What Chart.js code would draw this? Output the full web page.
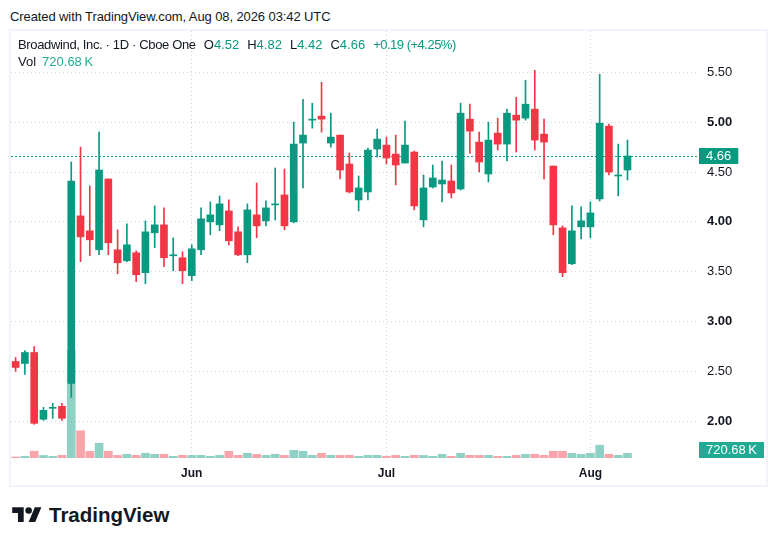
<!DOCTYPE html>
<html>
<head>
<meta charset="utf-8">
<script src="https://cdn.jsdelivr.net/npm/chart.js@4.4.1/dist/chart.umd.min.js"></script>
<style>
  html, body { margin: 0; padding: 0; background: #fff; }
  body { width: 776px; height: 546px; position: relative; overflow: hidden;
         font-family: "Liberation Sans", Arial, sans-serif; color: #131722; }
  #created { position: absolute; left: 10px; top: 8px; font-size: 13px; line-height: 17px; letter-spacing: -0.1px; }
  #frame { position: absolute; left: 9px; top: 29px; width: 759px; height: 458px;
           box-sizing: border-box; border: 2px solid #f0f3fa; }
  #chart { position: absolute; left: 0; top: 0; }
  #legend { position: absolute; left: 7px; top: 5px; font-size: 13px; line-height: 17px; pointer-events: none; white-space: nowrap; }
  #legend .title { letter-spacing: -0.35px; }
  #legend .grp { margin-left: 8px; }
  #legend .chg { letter-spacing: -0.5px; }
  #legend .up { color: #089981; }
  #legend .vol { color: #22ab94; margin-left: 6px; }
  #logo { position: absolute; left: 12px; top: 503px; display: flex; align-items: center; }
  #logo span { font-weight: bold; font-size: 20.5px; margin-left: 7px; color: #131722; }
</style>
</head>
<body>
<div id="created">Created with TradingView.com, Aug 08, 2026 03:42 UTC</div>
<div id="frame">
  <canvas id="chart" width="755" height="454"></canvas>
  <div id="legend">
    <div id="row1"></div>
    <div id="row2"></div>
  </div>
</div>
<div id="logo">
  <svg width="30" height="23" viewBox="0 0 36 28"><g fill="#131722">
    <path d="M14 22H7V11H0V4h14v18zM28 22h-8l7.5-18h8L28 22z"/><circle cx="20" cy="8" r="4"/></g></svg>
  <span>TradingView</span>
</div>

<script>
const TITLE = "Broadwind, Inc. · 1D · Cboe One";
const UP = "#089981";
const DOWN = "#F23645";
const UP_VOL = "rgba(8,153,129,0.45)";
const DOWN_VOL = "rgba(242,54,69,0.45)";
const GRID = "#d1d4dc";
const FONT = "'Liberation Sans', Arial, sans-serif";

// --- Data (daily candles, volume in thousands) ---
const DATES = [
    "2026-05-04", "2026-05-05", "2026-05-06", "2026-05-07", "2026-05-08",
    "2026-05-11", "2026-05-12", "2026-05-13", "2026-05-14", "2026-05-15",
    "2026-05-18", "2026-05-19", "2026-05-20", "2026-05-21", "2026-05-22",
    "2026-05-26", "2026-05-27", "2026-05-28", "2026-05-29",
    "2026-06-01", "2026-06-02", "2026-06-03", "2026-06-04", "2026-06-05",
    "2026-06-08", "2026-06-09", "2026-06-10", "2026-06-11", "2026-06-12",
    "2026-06-15", "2026-06-16", "2026-06-17", "2026-06-18",
    "2026-06-22", "2026-06-23", "2026-06-24", "2026-06-25", "2026-06-26",
    "2026-06-29", "2026-06-30",
    "2026-07-01", "2026-07-02",
    "2026-07-06", "2026-07-07", "2026-07-08", "2026-07-09", "2026-07-10",
    "2026-07-13", "2026-07-14", "2026-07-15", "2026-07-16", "2026-07-17",
    "2026-07-20", "2026-07-21", "2026-07-22", "2026-07-23", "2026-07-24",
    "2026-07-27", "2026-07-28", "2026-07-29", "2026-07-30", "2026-07-31",
    "2026-08-03", "2026-08-04", "2026-08-05", "2026-08-06", "2026-08-07",
];
const OPEN = [
    2.60, 2.58, 2.69, 2.02, 2.13, 2.15, 2.38, 4.06, 3.91, 3.72,
    4.43, 3.72, 3.61, 3.69, 3.49, 3.89, 3.97, 3.66, 3.64, 3.46,
    3.72, 4.00, 3.97, 4.11, 3.90, 3.67, 4.07, 4.01, 4.17, 4.27,
    4.00, 4.79, 5.02, 5.06, 4.79, 4.87, 4.58, 4.22, 4.30, 4.73,
    4.77, 4.68, 4.59, 4.70, 4.02, 4.35, 4.38, 4.41, 4.33, 5.03,
    4.80, 4.48, 4.89, 4.78, 5.07, 5.04, 5.13, 4.88, 4.56, 3.94,
    3.58, 3.95, 3.95, 4.23, 4.96, 4.46, 4.52,
];
const HIGH = [
    2.64, 2.71, 2.75, 2.14, 2.18, 2.18, 4.60, 4.75, 4.36, 4.90,
    4.43, 3.92, 3.98, 3.71, 4.01, 4.16, 4.14, 3.84, 3.70, 3.77,
    4.14, 4.20, 4.26, 4.22, 3.95, 4.18, 4.39, 4.21, 4.54, 4.53,
    5.00, 5.23, 5.19, 5.40, 5.09, 4.87, 4.69, 4.46, 4.74, 4.93,
    4.85, 4.87, 5.01, 4.71, 4.47, 4.57, 4.61, 4.57, 5.19, 5.18,
    4.90, 5.00, 5.04, 5.13, 5.25, 5.42, 5.52, 5.03, 4.56, 3.96,
    4.16, 4.15, 4.20, 5.48, 4.98, 4.78, 4.82,
];
const LOW = [
    2.50, 2.47, 1.97, 2.01, 2.03, 2.01, 2.24, 3.60, 3.66, 3.67,
    3.67, 3.48, 3.60, 3.40, 3.38, 3.74, 3.55, 3.51, 3.38, 3.41,
    3.67, 3.87, 3.91, 3.77, 3.66, 3.59, 3.84, 3.96, 4.02, 3.92,
    3.99, 4.34, 4.94, 4.90, 4.75, 4.43, 4.29, 4.11, 4.22, 4.65,
    4.58, 4.37, 4.59, 4.12, 3.95, 4.34, 4.20, 4.24, 4.32, 4.69,
    4.50, 4.40, 4.72, 4.61, 4.70, 5.02, 4.72, 4.43, 3.87, 3.45,
    3.57, 3.83, 3.84, 4.21, 4.47, 4.26, 4.42,
];
const CLOSE = [
    2.54, 2.69, 1.98, 2.11, 2.14, 2.03, 4.41, 3.85, 3.82, 4.52,
    3.79, 3.59, 3.77, 3.47, 3.90, 3.97, 3.64, 3.67, 3.51, 3.73,
    4.03, 4.07, 4.18, 3.81, 3.67, 4.12, 3.96, 4.14, 4.18, 3.96,
    4.78, 4.87, 5.03, 5.03, 4.85, 4.52, 4.30, 4.34, 4.72, 4.83,
    4.64, 4.57, 4.77, 4.16, 4.34, 4.44, 4.42, 4.29, 5.09, 4.91,
    4.60, 4.82, 4.78, 5.09, 5.02, 5.18, 4.82, 4.80, 3.97, 3.49,
    3.91, 4.01, 4.09, 4.99, 4.50, 4.47, 4.66,
];
const VOLUME = [
    152, 268, 1041, 395, 262, 418, 16590, 4185, 1022, 2264,
    1035, 402, 578, 411, 731, 566, 574, 255, 407, 398,
    415, 262, 404, 1028, 409, 716, 568, 412, 574, 405,
    1176, 1033, 406, 722, 413, 401, 409, 258, 411, 404,
    263, 408, 255, 414, 402, 261, 573, 258, 726, 410,
    403, 412, 257, 264, 406, 571, 566, 414, 1037, 1024,
    718, 569, 724, 1962, 572, 407, 720.68,
];
const TICK_DATES = ["2026-06-01", "2026-07-01", "2026-08-03"];
const TICK_LABELS = ["Jun", "Jul", "Aug"];
const PRICE_TICKS = [2.0, 2.5, 3.0, 3.5, 4.0, 4.5, 5.0, 5.5];

// empty slots on the right, like the free space TradingView leaves
const RIGHT_PAD = 7;
const LABELS = DATES.concat(new Array(RIGHT_PAD).fill(""));

const isUp = (i) => CLOSE[i] >= OPEN[i];
const candleColors = DATES.map((d, i) => (isUp(i) ? UP : DOWN));
const volColors = DATES.map((d, i) => (isUp(i) ? UP_VOL : DOWN_VOL));
const tickIndex = TICK_DATES.map((d) => DATES.indexOf(d));

// --- Legend ---
const last = DATES.length - 1;
const chg = CLOSE[last] - CLOSE[last - 1];
const pct = (chg / CLOSE[last - 1]) * 100;
const sign = chg >= 0 ? "+" : "−";
document.getElementById("row1").innerHTML =
    `<span class="title">${TITLE}</span>` +
    `<span class="grp">O<span class="up">${OPEN[last].toFixed(2)}</span></span>` +
    `<span class="grp">H<span class="up">${HIGH[last].toFixed(2)}</span></span>` +
    `<span class="grp">L<span class="up">${LOW[last].toFixed(2)}</span></span>` +
    `<span class="grp">C<span class="up">${CLOSE[last].toFixed(2)}</span></span>` +
    `<span class="grp up chg">${sign}${Math.abs(chg).toFixed(2)} (${sign}${Math.abs(pct).toFixed(2)}%)</span>`;
document.getElementById("row2").innerHTML =
    `<span>Vol</span><span class="vol">${VOLUME[last].toFixed(2)}\u2009K</span>`;

// --- Plugin: last price line + axis labels ---
const lastValuePlugin = {
    id: "lastValue",
    beforeDatasetsDraw(chart) {
        const { ctx, chartArea, scales } = chart;
        const y = Math.round(scales.y.getPixelForValue(CLOSE[last])) + 0.5;
        ctx.save();
        ctx.strokeStyle = UP;
        ctx.lineWidth = 1;
        ctx.setLineDash([2, 2]);
        ctx.beginPath();
        ctx.moveTo(chartArea.left, y);
        ctx.lineTo(chartArea.right, y);
        ctx.stroke();
        ctx.restore();
    },
    afterDraw(chart) {
        const { ctx, chartArea, scales } = chart;
        ctx.save();
        ctx.font = "13px " + FONT;
        ctx.textBaseline = "middle";
        function tag(text, yc, color) {
            const w = ctx.measureText(text).width + 14;
            const x = chartArea.right + 2;
            ctx.fillStyle = color;
            ctx.fillRect(x, yc - 8, w, 16);
            ctx.fillStyle = "#fff";
            ctx.fillText(text, x + 7, yc + 0.5);
        }
        tag(CLOSE[last].toFixed(2), scales.y.getPixelForValue(CLOSE[last]), UP);
        const vy = Math.min(scales.yVol.getPixelForValue(VOLUME[last]), chartArea.bottom - 8);
        tag(VOLUME[last].toFixed(2) + "\u2009K", vy, "#22ab94");
        ctx.restore();
    },
};

function noPad(s) {
    s.paddingTop = 0;
    s.paddingBottom = 0;
    s.paddingLeft = 0;
    s.paddingRight = 0;
}

// --- Chart ---
new Chart(document.getElementById("chart"), {
    type: "bar",
    data: {
        labels: LABELS,
        datasets: [
            {
                label: "body",
                data: DATES.map((d, i) => [OPEN[i], CLOSE[i]]),
                backgroundColor: candleColors,
                barThickness: 7,
                minBarLength: 1,
                grouped: false,
                order: 1,
                yAxisID: "y",
            },
            {
                label: "wick",
                data: DATES.map((d, i) => [LOW[i], HIGH[i]]),
                backgroundColor: candleColors,
                barThickness: 1,
                grouped: false,
                order: 2,
                yAxisID: "y",
            },
            {
                label: "volume",
                data: VOLUME,
                backgroundColor: volColors,
                barThickness: 8,
                grouped: false,
                order: 3,
                yAxisID: "yVol",
            },
        ],
    },
    options: {
        responsive: false,
        animation: false,
        layout: { padding: 0 },
        plugins: { legend: { display: false }, tooltip: { enabled: false } },
        scales: {
            x: {
                offset: true,
                grid: {
                    offset: false,
                    drawTicks: false,
                    color: (c) => (tickIndex.includes(c.index) ? GRID : "rgba(0,0,0,0)"),
                },
                border: { display: false, dash: [1, 3] },
                ticks: {
                    autoSkip: false,
                    maxRotation: 0,
                    padding: 8,
                    color: "#131722",
                    font: { family: FONT, size: 12, weight: "bold" },
                    callback: (v, i) => {
                        const k = tickIndex.indexOf(i);
                        return k >= 0 ? TICK_LABELS[k] : "";
                    },
                },
                afterFit: (s) => { s.height = 27; noPad(s); },
            },
            y: {
                position: "right",
                min: 1.632,
                max: 5.914,
                afterBuildTicks: (s) => { s.ticks = PRICE_TICKS.map((v) => ({ value: v })); },
                grid: { drawTicks: false, color: GRID },
                border: { display: false, dash: [1, 3] },
                ticks: {
                    padding: 10,
                    color: "#131722",
                    font: (c) => ({
                        family: FONT,
                        size: 13,
                        weight: c.tick && c.tick.value % 1 === 0 ? "bold" : "normal",
                    }),
                    callback: (v) => Number(v).toFixed(2),
                },
                afterFit: (s) => { s.width = 69; noPad(s); },
            },
            yVol: { display: false, min: 0, max: 65600 },
        },
    },
    plugins: [lastValuePlugin],
});
</script>
</body>
</html>
